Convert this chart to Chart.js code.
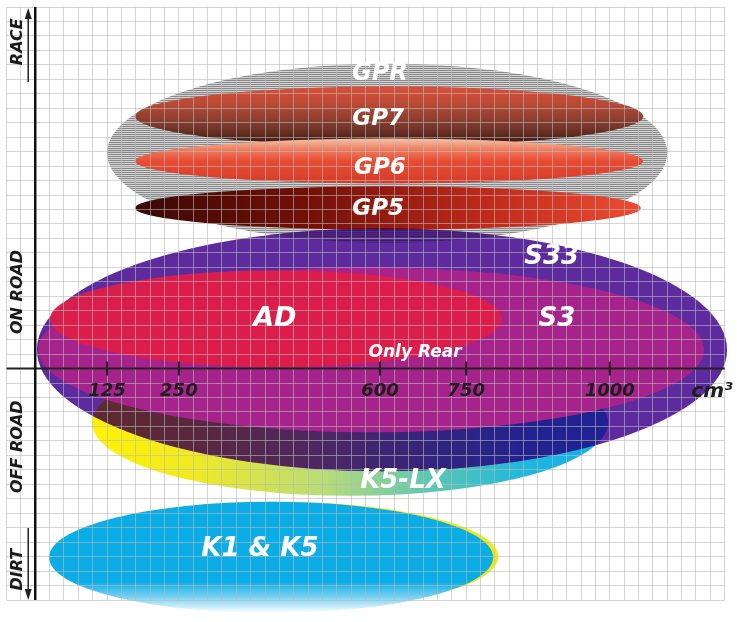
<!DOCTYPE html>
<html><head><meta charset="utf-8">
<script src="https://cdn.jsdelivr.net/npm/chart.js@4/dist/chart.umd.min.js"></script>
<style>html,body{margin:0;padding:0;background:#fff}canvas{display:block}</style>
</head><body>
<canvas id="c" width="737" height="622"></canvas>
<script>
// ---- data (engine size in cm³ on x, usage level on y: + road/race, − off-road/dirt) ----
const products = ['GPR', 'GP7', 'GP6', 'GP5', 'K5-LX', 'S33', 'S3', 'AD', 'K1 & K5'];
const ccMin    = [125, 174, 174, 174, 99, 3, 5, 26, 24];
const ccMax    = [1100, 1058, 1058, 1054, 997, 1204, 1164, 812, 797];
const levelMin = [8.7, 15.4, 12.8, 9.6, -8.8, -7.1, -4.4, 0.1, -16.9];
const levelMax = [21.1, 19.5, 15.9, 12.6, 1.3, 9.7, 7.0, 6.8, -9.2];

const labelText  = ['GPR', 'GP7', 'GP6', 'GP5', 'K5-LX', 'S33', 'S3', 'AD', 'K1 & K5', 'Only Rear'];
const labelCc    = [600, 597, 600, 597, 640, 899, 908, 417, 391, 661];
const labelLevel = [20.4, 17.25, 13.9, 11.0, -7.8, 7.7, 3.4, 3.4, -12.5, 1.1];

const ccTicks = [125, 250, 600, 750, 1000];
const unitLabel = 'cm³';
const unitCc = 1178;

const zones = ['RACE', 'ON ROAD', 'OFF ROAD', 'DIRT'];
const zoneLevel = [22.6, 5.3, -5.4, -13.9];

// K1 & K5 yellow rim (shifted copy)
const rimCcMin = 32, rimCcMax = 806, rimLevelMin = -16.8, rimLevelMax = -9.2;

// ---- styles ----
const FONT = "'DejaVu Sans', sans-serif";
const GRID = 'rgba(185,185,185,0.6)';
function stripePattern(ctx) {
  const c = document.createElement('canvas'); c.width = 1; c.height = 2;
  const g = c.getContext('2d');
  g.fillStyle = '#8a8a8a'; g.fillRect(0, 0, 1, 1);
  g.fillStyle = '#d2d2d2'; g.fillRect(0, 1, 1, 1);
  return ctx.createPattern(c, 'repeat');
}

const ellipsePlugin = {
  id: 'ellipses',
  beforeDatasetsDraw(chart) {
    const { ctx, scales: { x, y } } = chart;
    const geo = (a, b, lo, hi) => {
      const x0 = x.getPixelForValue(a), x1 = x.getPixelForValue(b);
      const y0 = y.getPixelForValue(hi), y1 = y.getPixelForValue(lo);
      return { x0, x1, y0, y1, cx: (x0 + x1) / 2, cy: (y0 + y1) / 2, rx: (x1 - x0) / 2, ry: (y1 - y0) / 2 };
    };
    const G = i => geo(ccMin[i], ccMax[i], levelMin[i], levelMax[i]);
    const fillE = (g, style, op) => {
      ctx.save();
      if (op) ctx.globalCompositeOperation = op;
      ctx.beginPath(); ctx.ellipse(g.cx, g.cy, g.rx, g.ry, 0, 0, Math.PI * 2);
      ctx.fillStyle = style; ctx.fill();
      ctx.restore();
    };
    const vGrad = (g, stops) => { const gr = ctx.createLinearGradient(0, g.y0, 0, g.y1); stops.forEach(s => gr.addColorStop(s[0], s[1])); return gr; };
    const hGrad = (g, stops) => { const gr = ctx.createLinearGradient(g.x0, 0, g.x1, 0); stops.forEach(s => gr.addColorStop(s[0], s[1])); return gr; };

    // K1 & K5 with yellow rim
    const rim = geo(rimCcMin, rimCcMax, rimLevelMin, rimLevelMax);
    fillE(rim, vGrad(rim, [[0, '#f2ea10'], [0.75, '#f2ea10'], [1, 'rgba(255,255,255,0)']]));
    const k1 = G(8);
    fillE(k1, vGrad(k1, [[0, '#0bade6'], [0.72, '#0bade6'], [0.86, '#7cd2f2'], [1, '#ffffff']]));

    // GPR striped
    fillE(G(0), stripePattern(ctx));
    // GP7
    const g7 = G(1);
    fillE(g7, vGrad(g7, [[0, '#dc4e36'], [0.3, '#b84a36'], [0.65, '#7c3a2c'], [1, '#3a1810']]));
    // GP6
    const g6 = G(2);
    fillE(g6, vGrad(g6, [[0, '#f4c2aa'], [0.25, '#ee7c5e'], [0.5, '#e84c34'], [1, '#d43c28']]));
    // GP5
    const g5 = G(3);
    fillE(g5, hGrad(g5, [[0, '#3a0805'], [0.35, '#751008'], [0.7, '#c02a1a'], [1, '#ee4c32']]));
    // K5-LX
    const k5 = G(4);
    fillE(k5, hGrad(k5, [[0, '#fff200'], [0.2, '#f0ea22'], [0.45, '#b8dc78'], [0.65, '#5cc8b0'], [0.85, '#1cb6e0'], [1, '#10b0e8']]));
    // S33 (multiply + light tint)
    const s33 = G(5);
    fillE(s33, '#5e2b9e', 'multiply');
    fillE(s33, 'rgba(94,43,158,0.3)');
    // S3
    fillE(G(6), '#a6238c');
    // AD
    fillE(G(7), 'rgba(222,30,72,0.95)');
  },
  afterDraw(chart) {
    const { ctx, chartArea: ca, scales: { x, y } } = chart;
    const x0 = x.getPixelForValue(0), y0 = y.getPixelForValue(0);
    ctx.save();
    // horizontal axis
    ctx.strokeStyle = '#222'; ctx.lineWidth = 2;
    ctx.beginPath(); ctx.moveTo(ca.left, y0); ctx.lineTo(ca.right, y0); ctx.stroke();
    // vertical axis
    ctx.strokeStyle = '#111'; ctx.lineWidth = 2.5;
    ctx.beginPath(); ctx.moveTo(x0, ca.top); ctx.lineTo(x0, ca.bottom); ctx.stroke();
    // ticks
    ctx.lineWidth = 2; ctx.strokeStyle = '#222';
    ccTicks.forEach(v => { const px = x.getPixelForValue(v); ctx.beginPath(); ctx.moveTo(px, y0 - 7); ctx.lineTo(px, y0 + 7); ctx.stroke(); });
    // tick labels
    ctx.fillStyle = '#1e1e1e'; ctx.textAlign = 'center'; ctx.textBaseline = 'middle';
    ctx.font = 'italic bold 18px ' + FONT;
    const ty = y.getPixelForValue(-1.6);
    ccTicks.forEach(v => ctx.fillText(String(v), x.getPixelForValue(v), ty));
    ctx.font = 'italic bold 20px ' + FONT;
    ctx.fillText(unitLabel, x.getPixelForValue(unitCc), ty);
    // side arrows
    const ax = x0 - 7;
    ctx.strokeStyle = '#222'; ctx.lineWidth = 1.5; ctx.fillStyle = '#222';
    ctx.beginPath(); ctx.moveTo(ax, 82); ctx.lineTo(ax, 16); ctx.stroke();
    ctx.beginPath(); ctx.moveTo(ax, 8); ctx.lineTo(ax - 3.5, 19); ctx.lineTo(ax + 3.5, 19); ctx.closePath(); ctx.fill();
    ctx.beginPath(); ctx.moveTo(ax, 528); ctx.lineTo(ax, 592); ctx.stroke();
    ctx.beginPath(); ctx.moveTo(ax, 600); ctx.lineTo(ax - 3.5, 589); ctx.lineTo(ax + 3.5, 589); ctx.closePath(); ctx.fill();
    // zone labels
    ctx.font = 'italic bold 16px ' + FONT; ctx.fillStyle = '#1a1a1a';
    zones.forEach((z, i) => {
      ctx.save(); ctx.translate(18, y.getPixelForValue(zoneLevel[i])); ctx.rotate(-Math.PI / 2);
      ctx.fillText(z, 0, 0); ctx.restore();
    });
    // product labels
    ctx.fillStyle = '#ffffff';
    const sizes = { 'GPR': 24, 'GP7': 23, 'GP6': 23, 'GP5': 23, 'K5-LX': 26, 'S33': 26, 'S3': 26, 'AD': 27, 'K1 & K5': 26, 'Only Rear': 17 };
    labelText.forEach((t, i) => {
      ctx.font = 'italic bold ' + sizes[t] + 'px ' + FONT;
      ctx.fillText(t, x.getPixelForValue(labelCc[i]), y.getPixelForValue(labelLevel[i]));
    });
    ctx.restore();
  }
};

new Chart(document.getElementById('c'), {
  type: 'scatter',
  data: { datasets: [{ data: [], pointRadius: 0 }] },
  options: {
    responsive: false,
    animation: false,
    events: [],
    layout: { padding: { left: 6.5, right: 12.3, top: 7, bottom: 22 } },
    plugins: { legend: { display: false }, tooltip: { enabled: false } },
    scales: {
      x: {
        type: 'linear', min: -50, max: 1200,
        ticks: { display: false, stepSize: 25 },
        grid: { color: GRID, lineWidth: 1, drawTicks: false, z: 1 },
        border: { display: false },
        afterFit: s => { s.height = 0; }
      },
      y: {
        type: 'linear', min: -16, max: 25,
        ticks: { display: false, stepSize: 1 },
        grid: { color: GRID, lineWidth: 1, drawTicks: false, z: 1 },
        border: { display: false },
        afterFit: s => { s.width = 0; }
      }
    }
  },
  plugins: [ellipsePlugin]
});
</script>
</body></html>
